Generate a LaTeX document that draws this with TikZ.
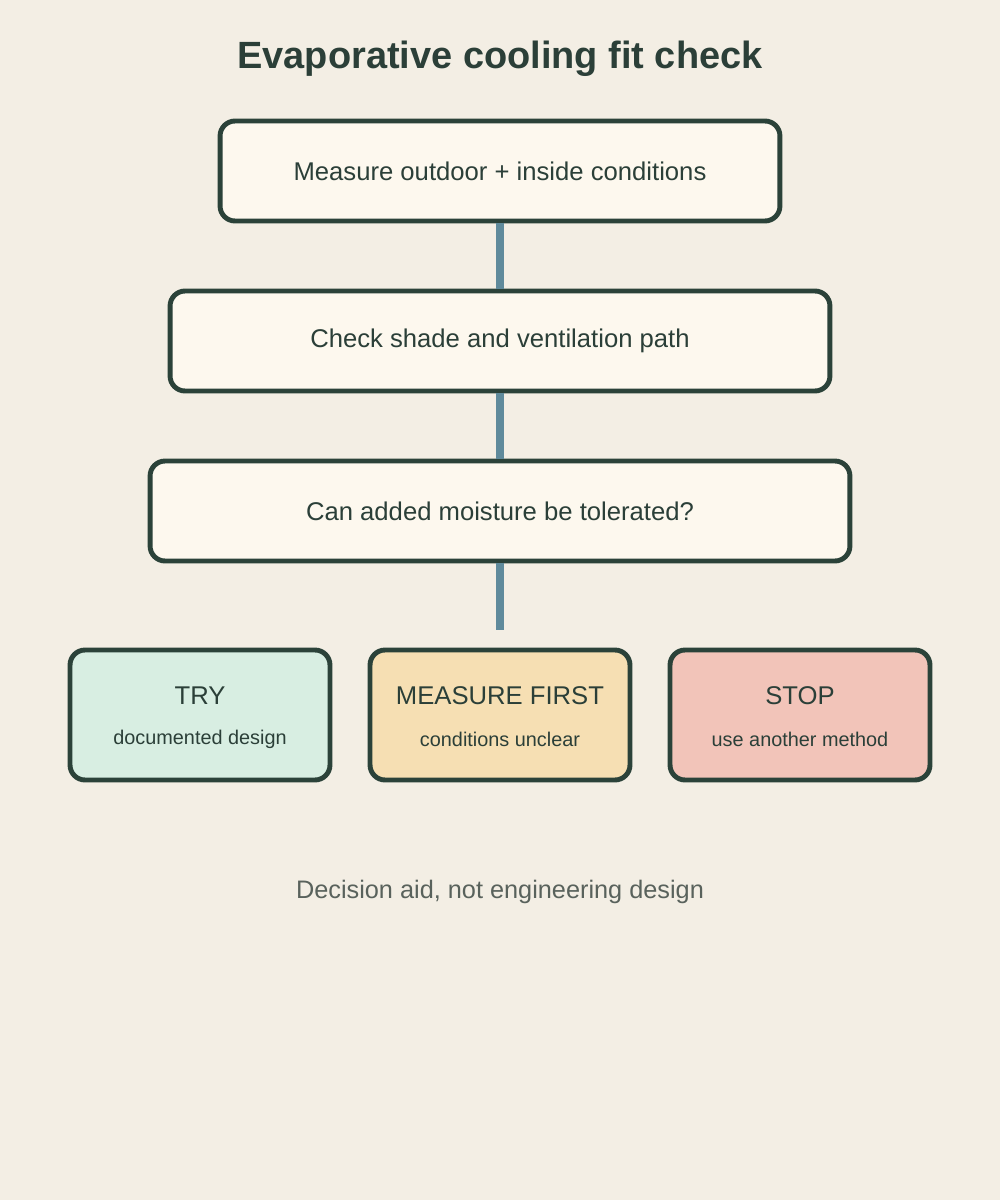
\documentclass[tikz,border=0pt]{standalone}
\usepackage{fontspec}
\setmainfont{Liberation Sans}
\usetikzlibrary{positioning}
\definecolor{bgcol}{HTML}{F3EEE4}
\definecolor{boxfill}{HTML}{FDF8EE}
\definecolor{edge}{HTML}{2B4239}
\definecolor{ink}{HTML}{2B3F38}
\definecolor{link}{HTML}{5F8A9B}
\definecolor{tryc}{HTML}{D8EEE2}
\definecolor{measc}{HTML}{F6DFB3}
\definecolor{stopc}{HTML}{F2C4B9}
\definecolor{note}{HTML}{59625C}

\begin{document}
\begin{tikzpicture}[x=0.02cm,y=-0.02cm,
    stage/.style={draw=edge,line width=2.8pt,rounded corners=0.3cm,fill=boxfill,
      text=ink,font=\fontsize{14.6}{17}\selectfont,minimum height=2cm,inner sep=0pt},
    result/.style={draw=edge,line width=2.8pt,rounded corners=0.3cm,text=ink,
      minimum width=5.2cm,minimum height=2.6cm,align=center,inner sep=0pt},
    pipe/.style={draw=link,line width=4.5pt}]

    % fond
    \fill[bgcol] (0,0) rectangle (1000,1200);

    \node[text=ink,font=\bfseries\fontsize{21.6}{26}\selectfont] (title) at (500,59) {Evaporative cooling fit check};

    % etapes
    \node[stage,minimum width=11.2cm] (measure) at (500,171) {Measure outdoor + inside conditions};
    \node[stage,minimum width=13.2cm] (shade) at (500,341) {Check shade and ventilation path};
    \node[stage,minimum width=14cm] (moist) at (500,511) {Can added moisture be tolerated?};
    \coordinate (split) at (500,630);

    \draw[pipe] (measure) -- (shade);
    \draw[pipe] (shade) -- (moist);
    \draw[pipe] (moist) -- (split);

    % resultats
    \foreach \x/\name/\col/\head/\sub in {200/try/tryc/TRY/documented design,
        500/first/measc/MEASURE FIRST/conditions unclear,
        800/stop/stopc/STOP/use another method} {
      \node[result,fill=\col] (\name) at (\x,715) {};
      \node[text=ink,font=\fontsize{14.6}{17}\selectfont] (\name-head) at (\x,696) {\head};
      \node[text=ink,font=\fontsize{11.3}{13}\selectfont] (\name-sub) at (\x,739) {\sub};
    }

    \node[text=note,font=\fontsize{14.4}{17}\selectfont] (footer) at (500,892) {Decision aid, not engineering design};

\end{tikzpicture}
\end{document}
